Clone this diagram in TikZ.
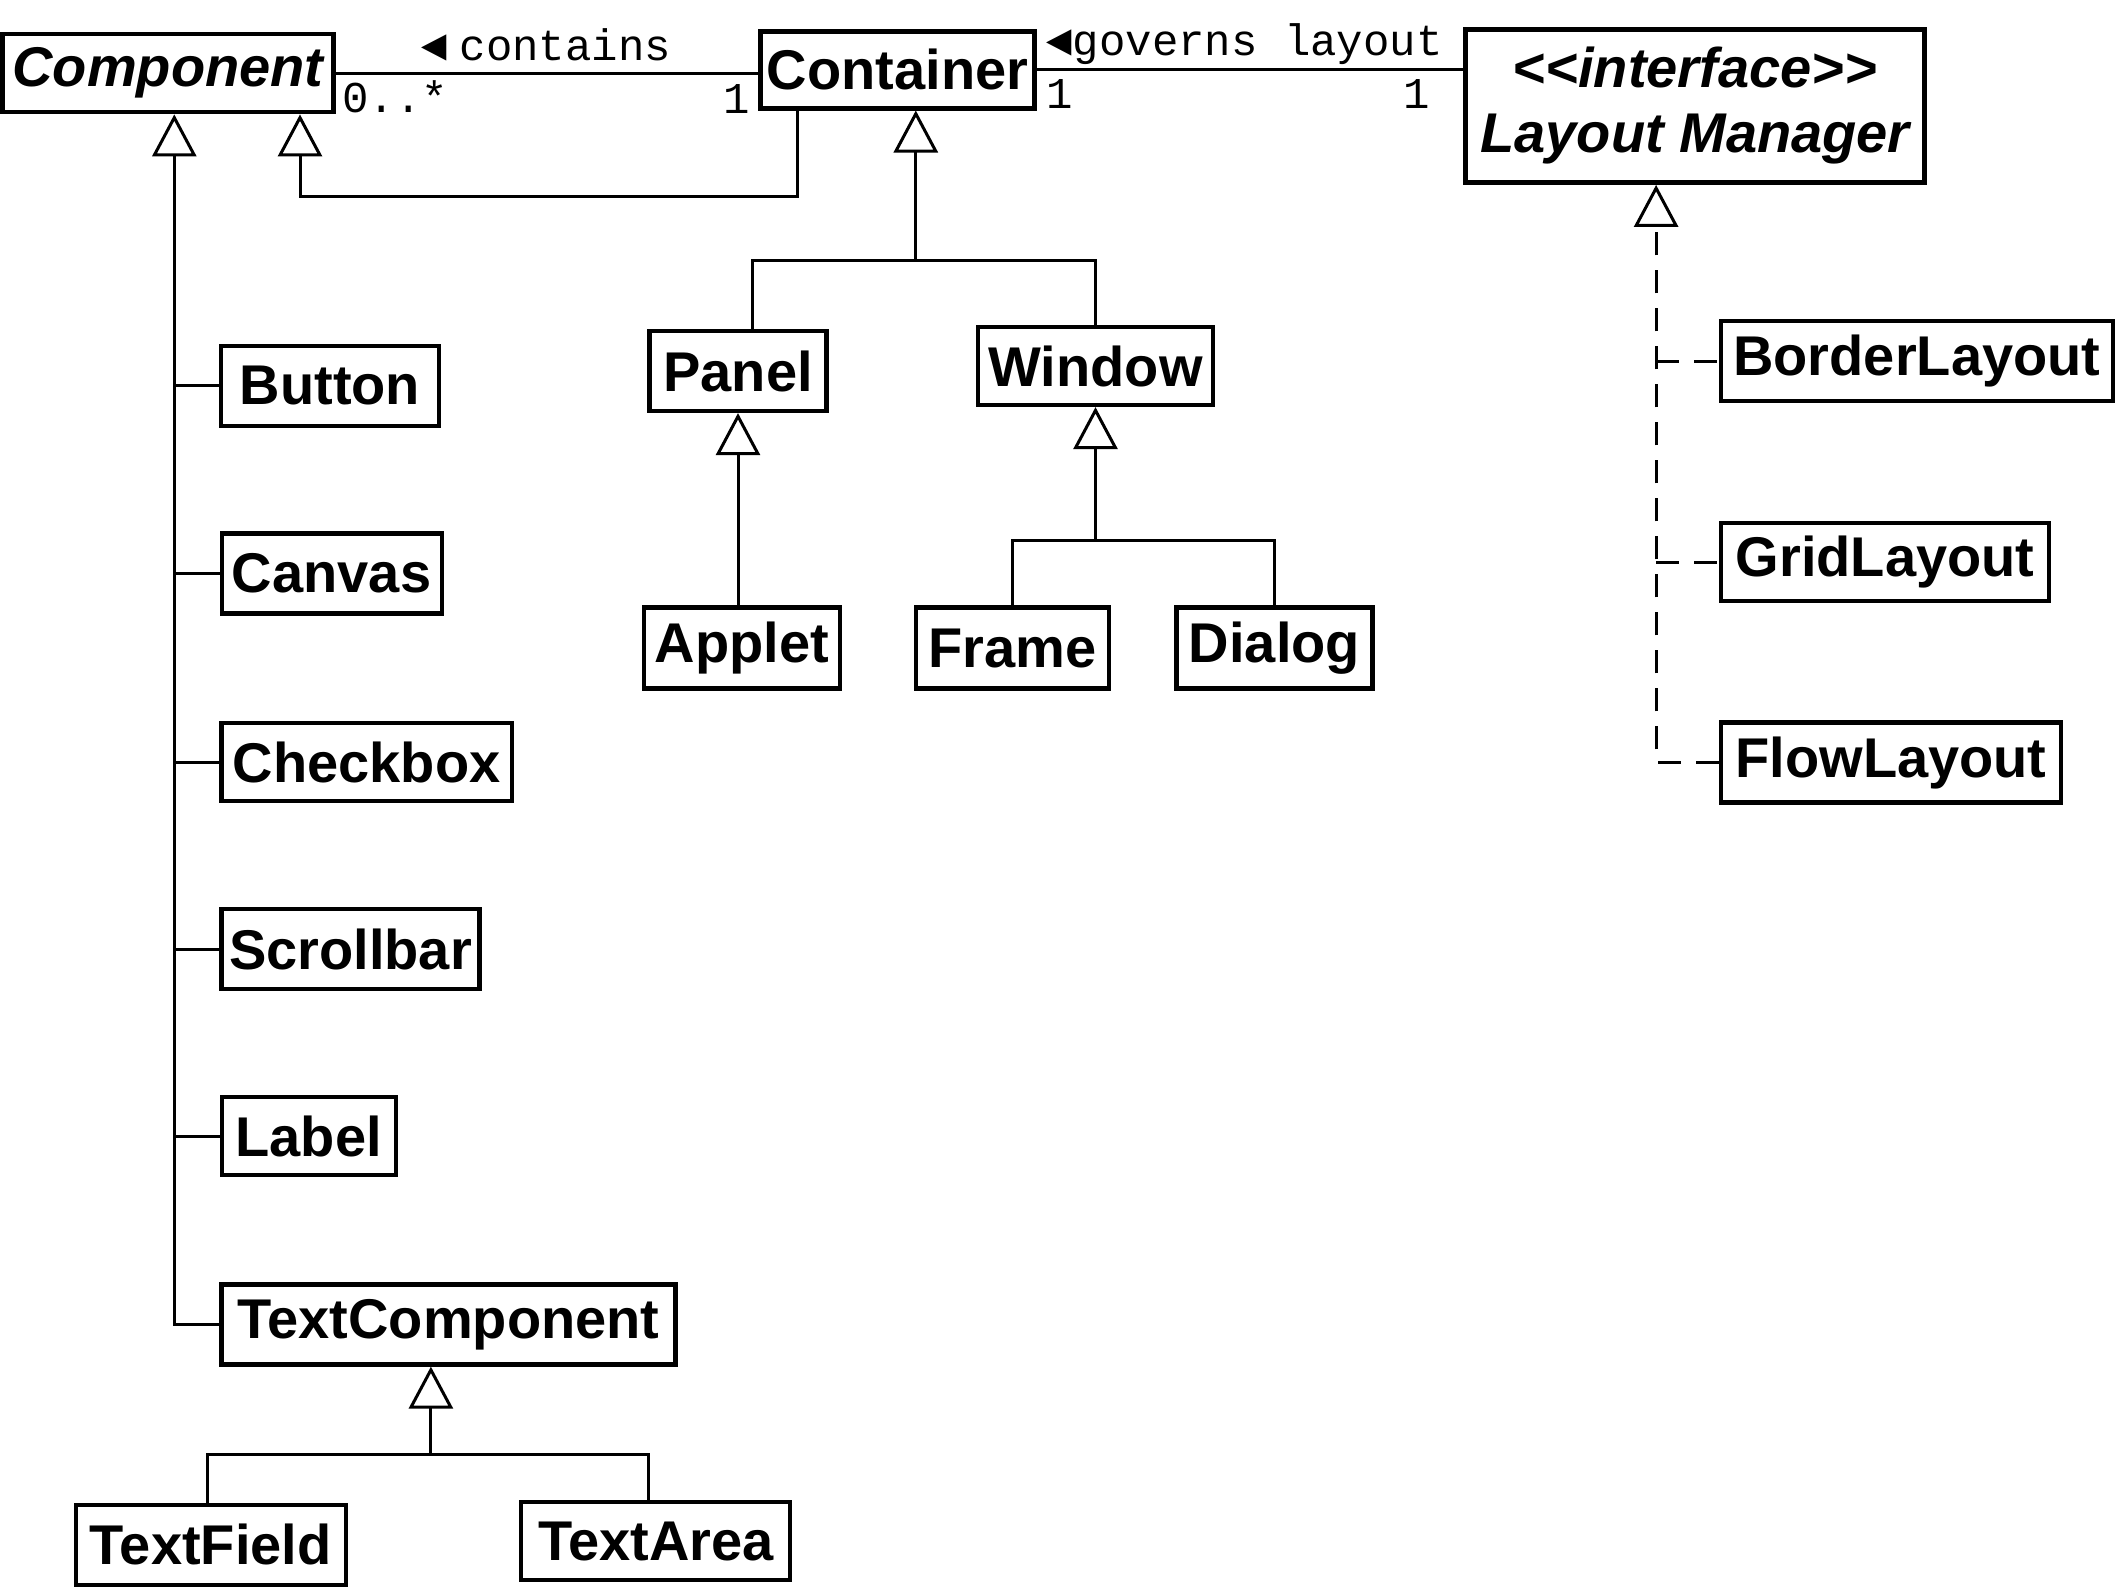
\documentclass[tikz,border=0pt]{standalone}
\usepackage{fontspec}
\setmainfont{Liberation Sans}
\newfontfamily\monofont{Liberation Mono}
\usetikzlibrary{arrows.meta}
\begin{document}
\begin{tikzpicture}[x=0.5pt,y=-0.5pt,
 cls/.style={draw, line width=2.1pt, inner sep=0pt, font=\fontsize{28}{33}\selectfont\bfseries},
 topcls/.style={cls, line width=2.4pt},
 acls/.style={topcls, font=\fontsize{28}{32.5}\selectfont\bfseries\itshape, align=center},
 sz/.style 2 args={minimum width=#1*0.5pt, minimum height=#2*0.5pt},
 conn/.style={line width=1.5pt},
 gen/.style={conn, -{Triangle[open, length=21pt, width=22pt]}},
 dsh/.style={conn, dash pattern=on 11.5pt off 7.5pt},
 real/.style={dsh, -{Triangle[open, length=21pt, width=22pt]}},
 lbl/.style={font=\monofont\fontsize{22}{26}\selectfont, inner sep=0pt},
]
\useasboundingbox[fill=white] (0,0) rectangle (2118,1587);

% classes
\node[acls, sz={331}{78}] (Component) at (168,73) {Component};
\node[topcls, sz={274}{77}] (Container) at (897.6,69.6) {Container};
\node[acls, sz={459}{153}] (LM) at (1695,106) {<{}<interface>{}>\\Layout Manager};

\node[cls, sz={217.5}{80}] (Button) at (330,385.6) {Button};
\node[cls, sz={220}{80}] (Canvas) at (331.6,573.4) {Canvas};
\node[cls, sz={290.5}{78}] (Checkbox) at (366.7,762) {Checkbox};
\node[cls, sz={258}{80}] (Scrollbar) at (350.5,949) {Scrollbar};
\node[cls, sz={174}{78}] (Label) at (308.6,1136) {Label};
\node[cls, sz={454}{80}] (TextComponent) at (448.5,1324.5) {TextComponent};
\node[cls, sz={270}{80}] (TextField) at (210.7,1544.7) {TextField};
\node[cls, sz={269}{78}] (TextArea) at (655.8,1541) {TextArea};

\node[cls, sz={177}{80}] (Panel) at (738,371) {Panel};
\node[cls, sz={235}{78}] (Window) at (1095.5,366) {Window};
\node[cls, sz={196}{81}] (Applet) at (742,648) {Applet};
\node[cls, sz={193}{81}] (Frame) at (1012.4,648) {Frame};
\node[cls, sz={196}{81}] (Dialog) at (1274.5,648) {Dialog};

\node[cls, sz={391.6}{80}] (BorderLayout) at (1916.8,361.3) {BorderLayout};
\node[cls, sz={328}{78}] (GridLayout) at (1885,562) {GridLayout};
\node[cls, sz={340}{80}] (FlowLayout) at (1891,762.5) {FlowLayout};

% associations
\draw[conn] (Component.east) -- (Component.east -| Container.west);
\draw[conn] (Container.east) -- (Container.east -| LM.west);
\node[lbl, anchor=base west] (lcont) at (421,60) {◄\kern6pt contains};
\node[lbl, anchor=base west] (lgov) at (1046,55) {◄governs layout};
\node[lbl, anchor=base west] (m1) at (342,112) {0..*};
\node[lbl, anchor=base] (m2) at (737,113) {1};
\node[lbl, anchor=base] (m3) at (1060,108) {1};
\node[lbl, anchor=base] (m4) at (1417,108) {1};

% Component hierarchy
\coordinate (ctx) at (174.3,0);
\draw[gen] (TextComponent.west) -| (Component.south -| ctx);
\foreach \n in {Button,Canvas,Checkbox,Scrollbar,Label}
  \draw[conn] (\n.west) -- (\n.west -| ctx);

% Container is a Component
\coordinate (cg1) at (797,196);
\coordinate (cg2) at (300,196);
\draw[gen] (Container.south -| cg1) -- (cg1) -- (cg2) -- (Component.south -| cg2);

% Container children
\coordinate (cb) at (915.8,260.7);
\coordinate (pb) at (752.4,0);
\draw[gen] (Panel.north -| pb) |- (cb) -- (Container.south -| cb);
\draw[conn] (Window.north) |- (cb);

\draw[gen] (Applet.north -| Panel.south) -- (Panel.south);

\coordinate (wb) at (0,540.3);
\draw[gen] (Frame.north) |- (Window.south |- wb) -- (Window.south);
\draw[conn] (Dialog.north) |- (Window.south |- wb);

% TextComponent children
\coordinate (tb) at (430.9,1454.8);
\coordinate (tfx) at (207,0);
\coordinate (tax) at (648.4,0);
\draw[gen] (TextField.north -| tfx) |- (tb) -- (TextComponent.south -| tb);
\draw[conn] (TextArea.north -| tax) |- (tb);

% Layout Manager realizations
\coordinate (lmx) at (1656.1,0);
\draw[real] (FlowLayout.west) -| (LM.south -| lmx);
\draw[dsh] (BorderLayout.west -| lmx) -- (BorderLayout.west);
\draw[dsh] (GridLayout.west -| lmx) -- (GridLayout.west);
\end{tikzpicture}
\end{document}
